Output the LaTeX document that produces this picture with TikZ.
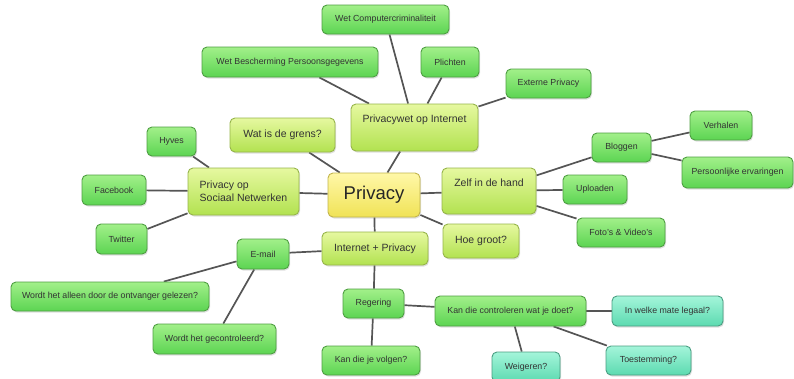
\documentclass[tikz,border=0pt]{standalone}
\usepackage{fontspec}
\setmainfont{Liberation Sans}
\usetikzlibrary{shadows,backgrounds}
\definecolor{gnT}{HTML}{A2F08A}
\definecolor{gnD}{HTML}{5CD452}
\definecolor{gnB}{HTML}{4E9E42}
\definecolor{tlT}{HTML}{A4F5DA}
\definecolor{tlD}{HTML}{5CDAB0}
\definecolor{tlB}{HTML}{4A9E82}
\definecolor{ygT}{HTML}{E6F8A0}
\definecolor{ygD}{HTML}{B2E250}
\definecolor{ygB}{HTML}{96B44A}
\definecolor{ywT}{HTML}{FFF8A8}
\definecolor{ywD}{HTML}{F0E256}
\definecolor{ywB}{HTML}{C2B44C}
\definecolor{txt}{HTML}{333333}
\definecolor{lnk}{HTML}{555555}
\begin{document}
\begin{tikzpicture}[x=1pt,y=-1pt,
  box/.style={rounded corners=5pt, inner sep=2pt, align=center, line width=0.9pt,
    drop shadow={shadow xshift=1pt,shadow yshift=-1.5pt,opacity=0.25}, text=txt},
  sz/.style 2 args={minimum width=#1pt, minimum height=#2pt},
  gn/.style={box, draw=gnB, top color=gnT, bottom color=gnD, font=\fontsize{8.8}{10.5}\selectfont},
  tl/.style={box, draw=tlB, top color=tlT, bottom color=tlD, font=\fontsize{8.8}{10.5}\selectfont},
  yg/.style={box, draw=ygB, top color=ygT, bottom color=ygD, font=\fontsize{10.5}{12.8}\selectfont},
  yw/.style={box, draw=ywB, top color=ywT, bottom color=ywD, font=\fontsize{18.5}{22}\selectfont, text=black!85},
  link/.style={draw=lnk, line width=1.7pt}
]
\useasboundingbox (0,0) rectangle (794,378);

\node[yw, sz={92}{44}] (privacy) at (374,195) {Privacy};

\node[yg, sz={127}{47}] (pwi) at (414.5,127.5) {Privacywet op Internet\\\strut};
\node[gn, sz={127}{29}] (wcc) at (385.5,19.5) {Wet Computercriminaliteit};
\node[gn, sz={176}{30}] (wbp) at (290,62) {Wet Bescherming Persoonsgegevens};
\node[gn, sz={58}{30}] (plichten) at (450,62) {Plichten};
\node[gn, sz={85}{29}] (externe) at (548.5,83.5) {Externe Privacy};

\node[yg, sz={105}{34}] (grens) at (282.5,135) {Wat is de grens?};

\node[yg, sz={111}{47}, align=left] (sociaal) at (243.5,191.5) {Privacy op\\Sociaal Netwerken};
\node[gn, sz={49}{29}] (hyves) at (171.5,141.5) {Hyves};
\node[gn, sz={64}{30}] (facebook) at (114,190) {Facebook};
\node[gn, sz={51}{30}] (twitter) at (121.5,239) {Twitter};

\node[yg, sz={106}{33}] (inet) at (375,248.5) {Internet + Privacy};
\node[gn, sz={52}{30}] (email) at (263,254) {E-mail};
\node[gn, sz={198}{29}] (alleen) at (110,296.5) {Wordt het alleen door de ontvanger gelezen?};
\node[gn, sz={123}{30}] (gecontr) at (214.5,339) {Wordt het gecontroleerd?};
\node[gn, sz={61}{29}] (regering) at (373.5,303.5) {Regering};
\node[gn, sz={98}{29}] (volgen) at (371,360.5) {Kan die je volgen?};
\node[gn, sz={151}{30}] (controleren) at (510.5,311) {Kan die controleren wat je doet?};
\node[tl, sz={111}{30}] (legaal) at (667.5,311) {In welke mate legaal?};
\node[tl, sz={68}{30}] (weigeren) at (526,367) {Weigeren?};
\node[tl, sz={85}{29}] (toestemming) at (648.5,360.5) {Toestemming?};

\node[yg, sz={76}{34}] (hoe) at (481,241) {Hoe groot?};

\node[yg, sz={94}{46}] (zelf) at (489,191) {Zelf in de hand\\\strut};
\node[gn, sz={59}{29}] (bloggen) at (621.5,147.5) {Bloggen};
\node[gn, sz={62}{29}] (verhalen) at (721,125.5) {Verhalen};
\node[gn, sz={111}{31}] (persoonlijk) at (737.5,172.5) {Persoonlijke ervaringen};
\node[gn, sz={64}{29}] (uploaden) at (595,189.5) {Uploaden};
\node[gn, sz={88}{29}] (fotos) at (621,232.5) {Foto's \& Video's};

\begin{scope}[on background layer]
\draw[link] (privacy) -- (pwi);
\draw[link] (pwi) -- (wcc);
\draw[link] (pwi) -- (wbp);
\draw[link] (pwi) -- (plichten);
\draw[link] (pwi) -- (externe);
\draw[link] (privacy) -- (grens);
\draw[link] (privacy) -- (sociaal);
\draw[link] (sociaal) -- (hyves);
\draw[link] (sociaal) -- (facebook);
\draw[link] (sociaal) -- (twitter);
\draw[link] (privacy) -- (inet);
\draw[link] (inet) -- (email);
\draw[link] (email) -- (alleen);
\draw[link] (email) -- (gecontr);
\draw[link] (inet) -- (regering);
\draw[link] (regering) -- (volgen);
\draw[link] (regering) -- (controleren);
\draw[link] (controleren) -- (legaal);
\draw[link] (controleren) -- (weigeren);
\draw[link] (controleren) -- (toestemming);
\draw[link] (privacy) -- (hoe);
\draw[link] (privacy) -- (zelf);
\draw[link] (zelf) -- (bloggen);
\draw[link] (zelf) -- (uploaden);
\draw[link] (zelf) -- (fotos);
\draw[link] (bloggen) -- (verhalen);
\draw[link] (bloggen) -- (persoonlijk);
\end{scope}
\end{tikzpicture}
\end{document}
